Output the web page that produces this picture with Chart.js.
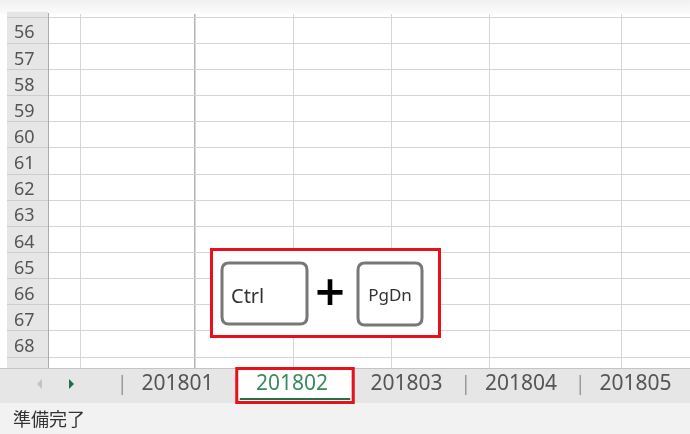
<!DOCTYPE html>
<html>
<head>
    <title>Sheet view</title>
    <style>
        body {
            margin: 0;
            background: #ffffff;
        }
        #sheet {
            display: block;
        }
    </style>
</head>
<body>
    <canvas id="sheet" width="690" height="434"></canvas>

    <script src="https://cdn.jsdelivr.net/npm/chart.js"></script>
    <script>
        const rowNumbers = [56, 57, 58, 59, 60, 61, 62, 63, 64, 65, 66, 67, 68];
        const columnWidths = [32, 115, 98, 99, 97, 132, 69];
        const paneSplitAfter = 2;
        const sheetTabs = ['201801', '201802', '201803', '201804', '201805'];
        const activeSheet = 1;
        const shortcutKeys = ['Ctrl', 'PgDn'];
        const statusText = '準備完了';

        // column edges from the widths
        const columnEdges = [];
        let run = 0;
        columnWidths.forEach(w => { run += w; columnEdges.push(run); });
        const totalWidth = run;

        function roundRect(ctx, x, y, w, h, r) {
            ctx.beginPath();
            ctx.moveTo(x + r, y);
            ctx.lineTo(x + w - r, y);
            ctx.quadraticCurveTo(x + w, y, x + w, y + r);
            ctx.lineTo(x + w, y + h - r);
            ctx.quadraticCurveTo(x + w, y + h, x + w - r, y + h);
            ctx.lineTo(x + r, y + h);
            ctx.quadraticCurveTo(x, y + h, x, y + h - r);
            ctx.lineTo(x, y + r);
            ctx.quadraticCurveTo(x, y, x + r, y);
            ctx.closePath();
        }

        const sheetChrome = {
            id: 'sheetChrome',
            beforeDraw(chart) {
                const ctx = chart.ctx;
                const area = chart.chartArea;
                const tabs = chart.scales.tabs;
                ctx.save();
                ctx.fillStyle = '#ffffff';
                ctx.fillRect(0, 0, chart.width, chart.height);
                const g = ctx.createLinearGradient(0, 0, 0, area.top);
                g.addColorStop(0, '#f1f1f1');
                g.addColorStop(1, '#fbfbfb');
                ctx.fillStyle = g;
                ctx.fillRect(0, 0, chart.width, area.top);
                // row header
                ctx.fillStyle = '#e6e6e6';
                ctx.fillRect(7, area.top - 2, area.left - 7, area.bottom - area.top + 2);
                // tab bar + status bar
                ctx.fillStyle = '#e6e6e6';
                ctx.fillRect(0, area.bottom, chart.width, tabs.bottom - area.bottom);
                ctx.fillStyle = '#f2f2f2';
                ctx.fillRect(0, tabs.bottom, chart.width, chart.height - tabs.bottom);
                // active tab
                const a0 = tabs.getPixelForValue(activeSheet - 0.5);
                const a1 = tabs.getPixelForValue(activeSheet + 0.5);
                ctx.fillStyle = '#ffffff';
                ctx.fillRect(a0 + 2, area.bottom, a1 - a0, 33);
                ctx.restore();
            },
            afterDraw(chart) {
                const ctx = chart.ctx;
                const area = chart.chartArea;
                const tabs = chart.scales.tabs;
                ctx.save();
                ctx.strokeStyle = '#c4c4c4';
                ctx.lineWidth = 1;
                ctx.beginPath();
                ctx.moveTo(0, area.bottom + 0.5);
                ctx.lineTo(chart.width, area.bottom + 0.5);
                ctx.stroke();

                // tab separators
                ctx.strokeStyle = '#9a9a9a';
                ctx.lineWidth = 1.5;
                for (let i = 0; i <= sheetTabs.length; i++) {
                    if (i === activeSheet || i === activeSheet + 1) continue;
                    const x = tabs.getPixelForValue(i - 0.5) + 2;
                    ctx.beginPath();
                    ctx.moveTo(x, area.bottom + 7);
                    ctx.lineTo(x, area.bottom + 27);
                    ctx.stroke();
                }

                // scroll arrows
                const my = area.bottom + 16;
                ctx.fillStyle = '#c2c2c2';
                ctx.beginPath();
                ctx.moveTo(37, my);
                ctx.lineTo(42, my - 5);
                ctx.lineTo(42, my + 5);
                ctx.closePath();
                ctx.fill();
                ctx.fillStyle = '#1e7145';
                ctx.beginPath();
                ctx.moveTo(74, my);
                ctx.lineTo(69, my - 5);
                ctx.lineTo(69, my + 5);
                ctx.closePath();
                ctx.fill();

                // active tab underline and red frame
                const a0 = tabs.getPixelForValue(activeSheet - 0.5);
                const a1 = tabs.getPixelForValue(activeSheet + 0.5);
                ctx.fillStyle = '#217346';
                ctx.fillRect(a0 + 5, area.bottom + 30, a1 - a0 - 4, 2);
                ctx.strokeStyle = '#e8101a';
                ctx.lineWidth = 3;
                ctx.strokeRect(a0 + 2, area.bottom + 0.5, a1 - a0 + 2, 34);

                // shortcut overlay
                ctx.fillStyle = '#ffffff';
                ctx.fillRect(210, 248, 231, 90);
                ctx.strokeStyle = '#e8101a';
                ctx.lineWidth = 3;
                ctx.strokeRect(211.5, 249.5, 228, 87);

                ctx.strokeStyle = '#777777';
                ctx.lineWidth = 3;
                roundRect(ctx, 222, 263, 85, 61, 7);
                ctx.stroke();
                roundRect(ctx, 358, 263, 64, 62, 7);
                ctx.stroke();

                ctx.fillStyle = '#333333';
                ctx.textBaseline = 'middle';
                ctx.textAlign = 'left';
                ctx.font = '20px "Noto Sans"';
                ctx.fillText(shortcutKeys[0], 231, 297);
                ctx.textAlign = 'center';
                ctx.font = '17px "Noto Sans"';
                ctx.fillText(shortcutKeys[1], 390, 296);
                ctx.fillStyle = '#000000';
                ctx.font = 'bold 40px "DejaVu Sans"';
                ctx.fillText('+', 330, 295);

                // status bar
                ctx.fillStyle = '#333333';
                ctx.textAlign = 'left';
                ctx.font = '18px "Noto Sans CJK JP"';
                ctx.fillText(statusText, 13, 419);
                ctx.restore();
            }
        };

        const rowTicks = [];
        rowNumbers.forEach(n => { rowTicks.push({ value: n - 0.5 }); rowTicks.push({ value: n }); });
        rowTicks.push({ value: rowNumbers[rowNumbers.length - 1] + 0.5 });

        new Chart(document.getElementById('sheet'), {
            type: 'scatter',
            data: { datasets: [] },
            options: {
                responsive: false,
                animation: false,
                events: [],
                layout: { padding: { left: 14, top: 12, right: 0, bottom: 31 } },
                plugins: { legend: { display: false }, tooltip: { enabled: false } },
                scales: {
                    x: {
                        type: 'linear',
                        position: 'top',
                        min: 0,
                        max: totalWidth,
                        afterBuildTicks: s => { s.ticks = columnEdges.slice(0, -1).map(v => ({ value: v })); },
                        afterFit: s => { s.height = 0; },
                        ticks: { display: false },
                        border: { display: false },
                        grid: {
                            drawTicks: false,
                            lineWidth: ctx => ctx.index === paneSplitAfter - 1 ? 1.5 : 1,
                            color: ctx => ctx.index === paneSplitAfter - 1 ? '#b3b3b3' : '#d6d6d6'
                        }
                    },
                    y: {
                        type: 'linear',
                        position: 'left',
                        reverse: true,
                        min: 55.37,
                        max: 68.92,
                        afterBuildTicks: s => { s.ticks = rowTicks.map(t => ({ value: t.value })); },
                        afterFit: s => { s.width = 34; },
                        border: { display: true, color: '#ababab', width: 1 },
                        grid: {
                            drawTicks: true,
                            tickLength: 41,
                            color: ctx => Number.isInteger(ctx.tick.value) ? 'rgba(0,0,0,0)' : '#d4d4d4',
                            tickColor: ctx => Number.isInteger(ctx.tick.value) ? 'rgba(0,0,0,0)' : '#cdcdcd'
                        },
                        ticks: {
                            autoSkip: false,
                            crossAlign: 'far',
                            labelOffset: 3,
                            color: '#555555',
                            font: { family: 'Noto Sans', size: 18 },
                            callback: v => rowNumbers.includes(v) ? String(v) : ''
                        }
                    },
                    tabs: {
                        type: 'linear',
                        position: 'bottom',
                        min: -1.131,
                        max: 4.476,
                        afterBuildTicks: s => { s.ticks = sheetTabs.map((_, i) => ({ value: i })); },
                        afterFit: s => { s.height = 35; },
                        border: { display: false },
                        grid: { display: false, drawTicks: false },
                        ticks: {
                            autoSkip: false,
                            maxRotation: 0,
                            padding: 3,
                            color: ctx => ctx.index === activeSheet ? '#3b8a5e' : '#555555',
                            font: { family: 'Noto Sans', size: 21 },
                            callback: v => sheetTabs[Math.round(v)]
                        }
                    }
                }
            },
            plugins: [sheetChrome]
        });
    </script>
</body>
</html>
